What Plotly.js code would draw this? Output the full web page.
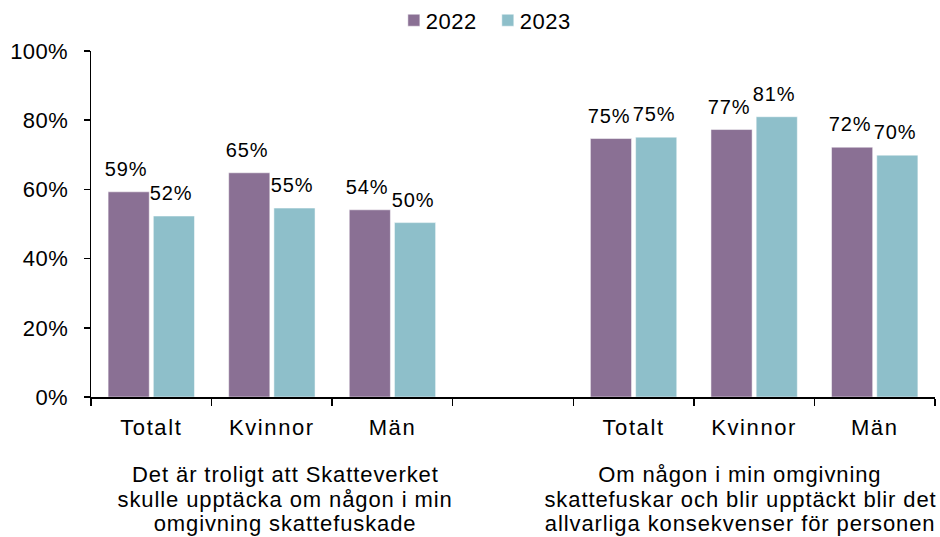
<!DOCTYPE html>
<html>
<head>
<meta charset="utf-8">
<script src="https://cdn.plot.ly/plotly-3.0.1.min.js"></script>
<style>
html,body{margin:0;padding:0;background:#fff;}
#chart{width:940px;height:537px;}
#chart .xtick text{letter-spacing:1.6px;}
#chart .ytick text{letter-spacing:0.4px;}
#chart .annotation-text{letter-spacing:0.9px;}
#chart .legendtext{letter-spacing:0.5px;transform:translateX(-8px);}
</style>
</head>
<body>
<div id="chart"></div>
<script>
// Data
const categories = ["Totalt", "Kvinnor", "Män", "", "Totalt", "Kvinnor", "Män"];
const barSlots = [0, 1, 2, 4, 5, 6];
const values2022 = [59.3, 64.8, 54.1, 74.7, 77.3, 72.2];
const values2023 = [52.3, 54.6, 50.4, 75.1, 81.0, 69.9];
const seriesNames = ["2022", "2023"];
const groupLabelLines = [
  ["Det är troligt att Skatteverket", "skulle upptäcka om någon i min", "omgivning skattefuskade"],
  ["Om någon i min omgivning", "skattefuskar och blir upptäckt blir det", "allvarliga konsekvenser för personen"]
];
const yTicks = [0, 20, 40, 60, 80, 100];

const FONT = "Liberation Sans, Arial, sans-serif";
const colors = ["#8a7094", "#8ebfca"];
const BARGAP = 0.25;
const GROUPGAP = 0.09;

const series = [values2022, values2023];
const data = series.map((vals, k) => ({
  type: "bar",
  name: seriesNames[k],
  x: barSlots,
  y: vals,
  marker: {color: colors[k], line: {color: "#ffffff", width: 0.5}},
  hoverinfo: "none"
}));

// value labels above bars (positioned via the bar group geometry)
const slotW = (1 - BARGAP) / series.length;
const valueAnnotations = [];
series.forEach((vals, k) => {
  const off = -(1 - BARGAP) / 2 + slotW * (k + 0.5);
  vals.forEach((v, i) => {
    valueAnnotations.push({
      text: Math.round(v) + "%",
      xref: "x", yref: "y",
      x: barSlots[i] + off - 0.02, y: v,
      xanchor: "center", yanchor: "bottom",
      yshift: 10,
      showarrow: false,
      font: {family: FONT, size: 20, color: "#000"}
    });
  });
});

const groupCenters = [1.113, 4.883];
const lineY = [-0.224, -0.295, -0.367];
const groupAnnotations = [];
groupLabelLines.forEach((lines, g) => {
  lines.forEach((t, j) => {
    groupAnnotations.push({
      text: t,
      xref: "x", yref: "paper",
      x: groupCenters[g], y: lineY[j],
      xanchor: "center", yanchor: "middle",
      borderpad: 0,
      showarrow: false,
      font: {family: FONT, size: 22, color: "#000"}
    });
  });
});

const layout = {
  width: 940, height: 537,
  margin: {l: 91, r: 5, t: 51, b: 140, autoexpand: false},
  paper_bgcolor: "#fff", plot_bgcolor: "#fff",
  font: {family: FONT, size: 22, color: "#000"},
  barmode: "group",
  bargap: BARGAP,
  bargroupgap: GROUPGAP,
  showlegend: true,
  legend: {
    orientation: "h",
    xref: "container", yref: "container",
    x: 0.519, xanchor: "center", y: 0.962, yanchor: "middle",
    font: {family: FONT, size: 22, color: "#000"},
    itemwidth: 30, tracegroupgap: 0
  },
  xaxis: {
    type: "linear",
    range: [-0.5, 6.5],
    tickmode: "array",
    tickvals: categories.map((c, i) => i),
    ticktext: categories,
    ticks: "",
    automargin: false,
    showgrid: false, zeroline: false,
    showline: true, linecolor: "#000", linewidth: 1.5,
    tickfont: {family: FONT, size: 22, color: "#000"},
    ticklabelstandoff: 10,
    minor: {tick0: -0.5, dtick: 1, ticks: "outside", ticklen: 7, tickcolor: "#000", tickwidth: 1.5, showgrid: false},
    fixedrange: true
  },
  yaxis: {
    range: [0, 100],
    tickmode: "array",
    tickvals: yTicks,
    ticktext: yTicks.map(v => v + "%"),
    ticks: "outside", ticklen: 6, tickcolor: "#000", tickwidth: 1.5,
    automargin: false,
    showgrid: false, zeroline: false,
    showline: true, linecolor: "#000", linewidth: 1.5,
    tickfont: {family: FONT, size: 22, color: "#000"},
    ticklabelstandoff: 11,
    fixedrange: true
  },
  annotations: valueAnnotations.concat(groupAnnotations)
};

Plotly.newPlot("chart", data, layout, {displayModeBar: false, staticPlot: true});
</script>
</body>
</html>
